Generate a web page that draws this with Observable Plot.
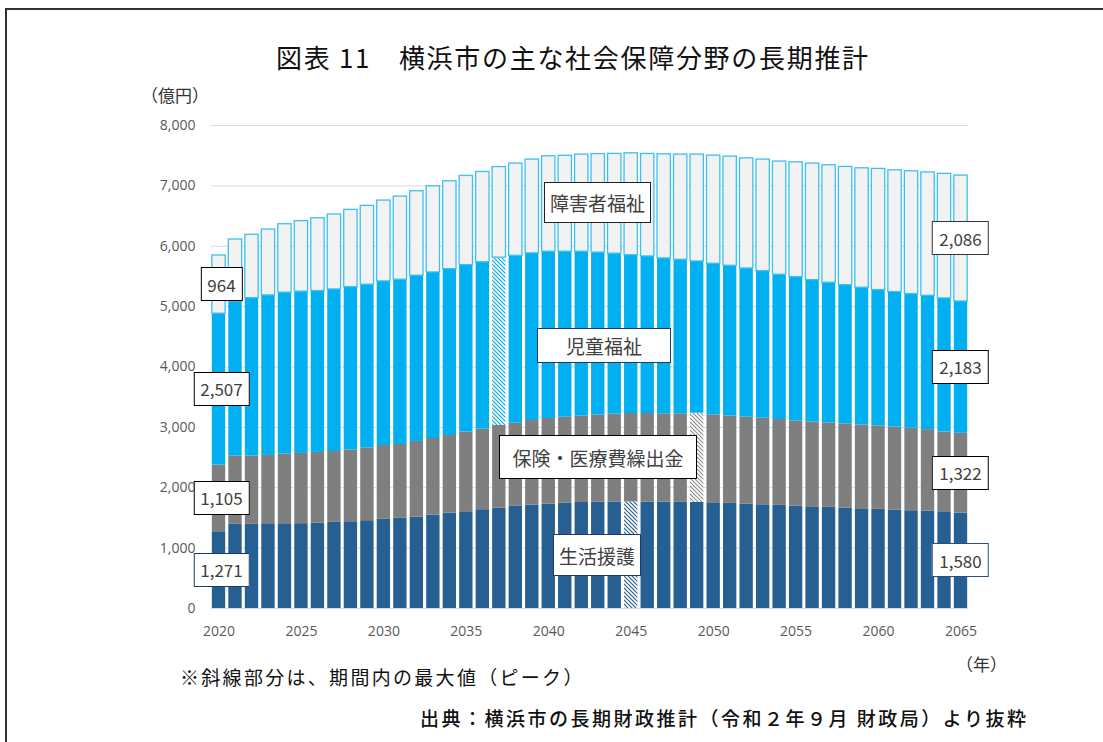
<!DOCTYPE html>
<html><head><meta charset="utf-8">
<script src="https://cdn.jsdelivr.net/npm/d3@7"></script>
<script src="https://cdn.jsdelivr.net/npm/@observablehq/plot@0.6"></script>
<style>
html,body{margin:0;padding:0;background:#fff;}
#wrap{position:relative;width:1103px;height:742px;overflow:hidden;font-family:"Noto Sans CJK JP","Noto Sans",sans-serif;}
.abs{position:absolute;white-space:nowrap;}
#frameL{left:5px;top:8px;width:2px;height:740px;background:#333;}
#frameT{left:5px;top:8px;width:1098px;height:2px;background:#333;}
#title{left:276px;top:43px;font-size:26px;line-height:28px;letter-spacing:1.7px;color:#111;font-weight:400;}
#unit{left:141px;top:85px;font-size:17px;line-height:20px;color:#333;}
#yearu{left:956px;top:654px;font-size:17px;line-height:20px;color:#333;}
#note{left:180px;top:665px;font-size:19px;line-height:24px;letter-spacing:2.3px;color:#111;}
#src{left:420px;top:706px;font-size:19px;line-height:24px;letter-spacing:2.5px;color:#111;font-weight:500;}
.box{position:absolute;box-sizing:border-box;background:#fff;border:1.5px solid #000;display:flex;align-items:center;justify-content:center;color:#404040;white-space:nowrap;}
.val{height:34px;font-size:17px;padding:0 6px;transform:translate(-50%,-50%);}
.ser{font-size:19px;}
</style>
</head><body>
<svg width="0" height="0" style="position:absolute">
<defs>
<pattern id="hDark" patternUnits="userSpaceOnUse" width="4" height="4">
<rect width="4" height="4" fill="#fff"/>
<path d="M-1,-1L5,5M3,-1L5,1M-1,3L1,5" stroke="#265f92" stroke-width="1.2"/>
</pattern>
<pattern id="hGray" patternUnits="userSpaceOnUse" width="4" height="4">
<rect width="4" height="4" fill="#fff"/>
<path d="M-1,-1L5,5M3,-1L5,1M-1,3L1,5" stroke="#8c8c8c" stroke-width="1.1"/>
</pattern>
<pattern id="hBlue" patternUnits="userSpaceOnUse" width="4" height="4">
<rect width="4" height="4" fill="#fff"/>
<path d="M-1,-1L5,5M3,-1L5,1M-1,3L1,5" stroke="#00b0f0" stroke-width="1.2"/>
</pattern>
</defs>
</svg>
<div id="wrap">
<div class="abs" id="frameL"></div>
<div class="abs" id="frameT"></div>
<div class="abs" id="title">図表 11　横浜市の主な社会保障分野の長期推計</div>
<div class="abs" id="unit">（億円）</div>
<div id="chart" class="abs" style="left:0;top:0;"></div>
<div class="abs" id="yearu">（年）</div>
<div class="abs" id="note">※斜線部分は、期間内の最大値（ピーク）</div>
<div class="abs" id="src">出典：横浜市の長期財政推計（令和２年９月 財政局）より抜粋</div>
</div>
<script>
const years = [2020,2021,2022,2023,2024,2025,2026,2027,2028,2029,2030,2031,2032,2033,2034,2035,2036,2037,2038,2039,2040,2041,2042,2043,2044,2045,2046,2047,2048,2049,2050,2051,2052,2053,2054,2055,2056,2057,2058,2059,2060,2061,2062,2063,2064,2065];
const seriesNames = ["生活援護","保険・医療費繰出金","児童福祉","障害者福祉"];
const livelihood = [1271,1394,1394,1404,1404,1405,1416,1427,1437,1454,1477,1493,1515,1548,1581,1602,1636,1664,1692,1713,1730,1746,1755,1761,1764,1766,1763,1762,1758,1757,1751,1741,1730,1718,1708,1697,1685,1675,1664,1652,1642,1631,1619,1612,1602,1580];
const insurance = [1105,1130,1130,1131,1153,1164,1169,1174,1186,1207,1223,1224,1252,1268,1285,1323,1334,1367,1377,1401,1417,1423,1435,1444,1455,1464,1467,1463,1467,1478,1456,1449,1439,1434,1422,1410,1401,1399,1394,1389,1383,1372,1367,1351,1323,1322];
const children = [2507,2563,2617,2651,2674,2679,2672,2684,2700,2702,2718,2729,2745,2750,2755,2762,2765,2780,2772,2768,2762,2740,2719,2690,2658,2622,2601,2573,2551,2513,2503,2487,2463,2436,2398,2382,2353,2322,2298,2272,2249,2238,2222,2216,2211,2183];
const disability = [964,1025,1049,1091,1134,1168,1207,1241,1280,1306,1339,1377,1399,1427,1455,1478,1495,1500,1528,1553,1581,1589,1609,1632,1653,1687,1698,1725,1742,1770,1791,1808,1824,1848,1875,1901,1930,1945,1958,1978,2007,2017,2034,2044,2063,2086];
const peakYears = [2045, 2049, 2037, null];
const yTicks = [0,1000,2000,3000,4000,5000,6000,7000,8000];
const xTicks = [2020,2025,2030,2035,2040,2045,2050,2055,2060,2065];

const seriesValues = [livelihood, insurance, children, disability];
const fills = ["#265f92","#7f7f7f","#00b0f0","#f2f2f2"];
const hatch = ["url(#hDark)","url(#hGray)","url(#hBlue)",null];
const strokes = ["none","none","none","#3dc0f0"];

const rows = [];
years.forEach((yr, i) => {
  seriesNames.forEach((s, k) => {
    rows.push({
      year: yr, series: s, value: seriesValues[k][i],
      fill: peakYears[k] === yr ? hatch[k] : fills[k],
      stroke: strokes[k]
    });
  });
});

const plot = Plot.plot({
  width: 1103, height: 650,
  marginLeft: 211, marginRight: 135, marginTop: 125, marginBottom: 42,
  x: {type: "band", domain: years, paddingInner: 0.19, paddingOuter: 0.05, round: false},
  y: {domain: [0, 8000]},
  color: {type: "identity"},
  style: {fontFamily: "'Open Sans', sans-serif", fontSize: "14px", color: "#595959", background: "transparent", overflow: "visible"},
  marks: [
    Plot.gridY(yTicks, {stroke: "#d9d9d9", strokeOpacity: 1, strokeWidth: 1}),
    Plot.barY(rows, Plot.stackY({x: "year", y: "value", z: "series", order: seriesNames, fill: d => d.fill, stroke: d => d.stroke, strokeWidth: 1.3})),
    Plot.axisY(yTicks, {tickSize: 0, tickPadding: 16, tickFormat: d3.format(","), label: null}),
    Plot.axisX(xTicks, {tickSize: 0, tickPadding: 18, label: null, tickFormat: d => String(d)})
  ]
});
document.getElementById("chart").appendChild(plot);

const xs = plot.scale("x"), ys = plot.scale("y");
const wrap = document.getElementById("wrap");
const fmt = d3.format(",");
const navy = "#1f3864";
const leftBorders = ["#1f3864", "#000", "#000", "#000"];
const rightBorders = ["#2f4a8a", "#000", "#000", "#333"];
function addVal(yearIdx, borders, dx) {
  let base = 0;
  seriesValues.forEach((vals, k) => {
    const v = vals[yearIdx];
    const mid = base + v / 2;
    base += v;
    const el = document.createElement("div");
    el.className = "box val";
    el.textContent = fmt(v);
    el.style.borderColor = borders[k];
    el.style.left = (xs.apply(years[yearIdx]) + xs.bandwidth / 2 + dx) + "px";
    el.style.top = ys.apply(mid) + "px";
    wrap.appendChild(el);
  });
}
addVal(0, leftBorders, 3);
addVal(years.length - 1, rightBorders, 0);

const serBoxes = [
  {t: "障害者福祉", l: 544, tp: 182, w: 107, h: 41, b: "#222"},
  {t: "児童福祉", l: 537, tp: 328, w: 134, h: 35, b: navy},
  {t: "保険・医療費繰出金", l: 499, tp: 435, w: 198, h: 44, b: "#000"},
  {t: "生活援護", l: 553, tp: 534, w: 88, h: 42, b: navy}
];
serBoxes.forEach(s => {
  const el = document.createElement("div");
  el.className = "box ser";
  el.textContent = s.t;
  el.style.left = s.l + "px"; el.style.top = s.tp + "px";
  el.style.width = s.w + "px"; el.style.height = s.h + "px";
  el.style.borderColor = s.b;
  wrap.appendChild(el);
});
</script>
</body></html>
